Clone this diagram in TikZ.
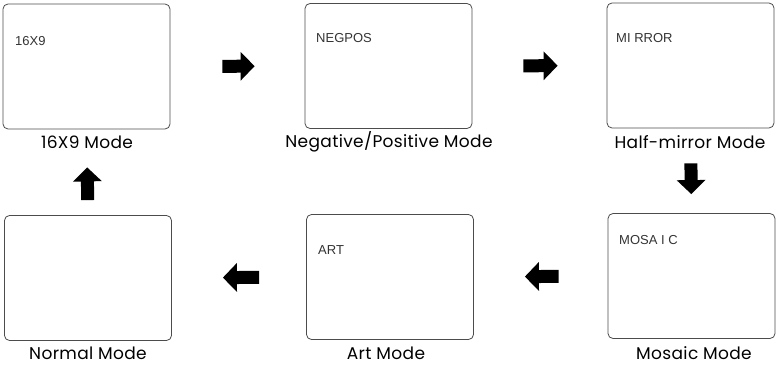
\documentclass[tikz,border=0pt]{standalone}
\usepackage{fontspec}
\setmainfont{Poppins}[LetterSpace=2]
\newfontfamily\screenfont{Liberation Sans}
\usetikzlibrary{arrows.meta}
\begin{document}
\begin{tikzpicture}[x=1pt,y=-1pt,
  screen/.style={draw=black!70, line width=0.8pt, rounded corners=5pt,
    minimum width=167pt, minimum height=125pt, inner sep=0pt},
  caption/.style={font=\fontsize{17}{20}\selectfont, inner sep=0pt, anchor=base},
  screentext/.style={font=\screenfont\fontsize{13}{15}\selectfont, anchor=west,
    inner sep=0pt, text=black!80},
  blockarrow/.style={line width=13pt, -{Triangle[length=14pt,width=28pt]}}]
\useasboundingbox (0,0) rectangle (776,366);
% screens
\node[screen] (b1) at (86.5,66.5) {};
\node[screen] (b2) at (388.5,66) {};
\node[screen] (b3) at (690.5,65.5) {};
\node[screen] (b4) at (691.5,276) {};
\node[screen] (b5) at (390,277) {};
\node[screen] (b6) at (88,278) {};
% screen texts
\node[screentext] (t1) at (15,41) {16X9};
\node[screentext] (t2) at (316,38) {NEGPOS};
\node[screentext] (t3) at (616,38) {MI RROR};
\node[screentext] (t4) at (619,240) {MOSA I C};
\node[screentext] (t5) at (318,250) {ART};
% captions
\node[caption] (l1) at (87,149) {16X9 Mode};
\node[caption] (l2) at (389,148) {Negative/Positive Mode};
\node[caption] (l3) at (690,149) {Half-mirror Mode};
\node[caption] (l4) at (694,359) {Mosaic Mode};
\node[caption] (l5) at (386,359) {Art Mode};
\node[caption] (l6) at (88,359) {Normal Mode};
% arrows
\draw[blockarrow, shorten <=52pt, shorten >=50pt] (b1.east) -- (b2.west);
\draw[blockarrow, shorten <=51pt, shorten >=49pt] (b2.east) -- (b3.west);
\draw[blockarrow, shorten <=35pt, shorten >=19pt] (b3.south) -- (b4.north);
\draw[blockarrow, shorten <=49pt, shorten >=51pt] (b4.west) -- (b5.east);
\draw[blockarrow, shorten <=47pt, shorten >=51pt] (b5.west) -- (b6.east);
\draw[blockarrow, shorten <=15pt, shorten >=38pt] (b6.north) -- (b1.south);
\end{tikzpicture}
\end{document}
